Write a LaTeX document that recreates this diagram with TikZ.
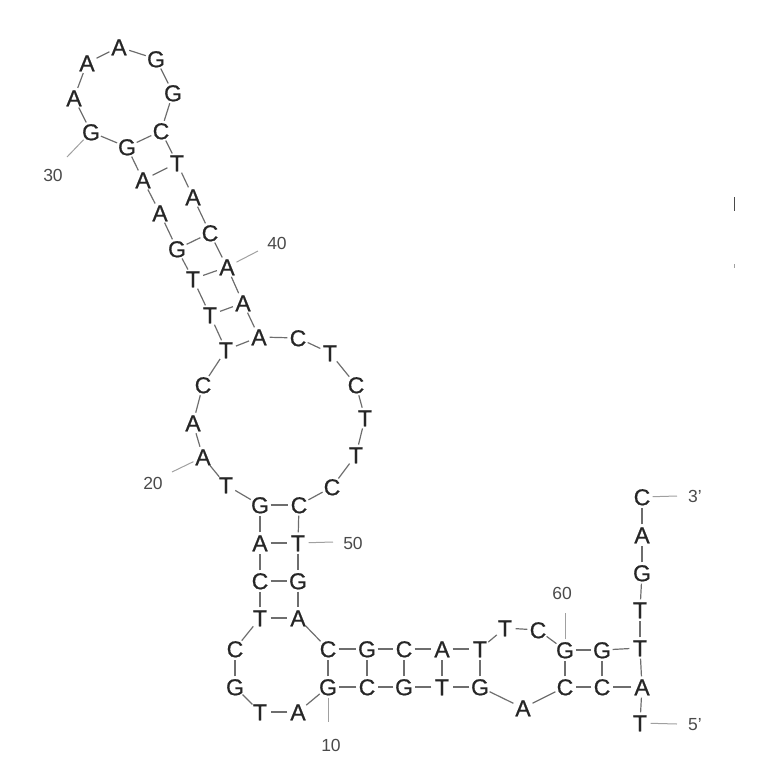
\documentclass[tikz,border=0pt]{standalone}
\usepackage{fontspec}
\setmainfont{Liberation Sans}
\newfontface\basefont{Liberation Sans}[FakeBold=0.7]
\definecolor{basecol}{HTML}{262626}
\definecolor{linkcol}{HTML}{6E6E6E}
\definecolor{numcol}{HTML}{4A4A4A}
\definecolor{tickcol}{HTML}{A0A0A0}
\newcommand\nuc[4]{\node[nt] (#1) at (#2,#3) {\makebox[0pt]{#4}};}
\begin{document}
\begin{tikzpicture}[x=1pt,y=-1pt,
  nt/.style={circle,inner sep=0pt,minimum size=21pt,text height=16.5pt,text depth=0pt,
    font=\basefont\fontsize{23}{26}\selectfont,text=basecol},
  bb/.style={draw=linkcol,line width=1.2pt},
  tick/.style={draw=tickcol,line width=1pt},
  num/.style={font=\fontsize{17.5}{20}\selectfont,text=numcol,inner sep=0pt}]
\useasboundingbox (0,0) rectangle (764,764);
% nucleotides
\nuc{n1}{640}{723}{T}
\nuc{n2}{642}{687}{A}
\nuc{n3}{602}{687}{C}
\nuc{n4}{565}{687}{C}
\nuc{n5}{523}{708}{A}
\nuc{n6}{480}{687}{G}
\nuc{n7}{442}{687}{T}
\nuc{n8}{404}{687}{G}
\nuc{n9}{367}{687}{C}
\nuc{n10}{328}{687}{G}
\nuc{n11}{298}{712}{A}
\nuc{n12}{260}{712}{T}
\nuc{n13}{235}{687}{G}
\nuc{n14}{235}{649}{C}
\nuc{n15}{260}{618}{T}
\nuc{n16}{260}{581}{C}
\nuc{n17}{260}{543}{A}
\nuc{n18}{260}{505}{G}
\nuc{n19}{226}{485}{T}
\nuc{n20}{203}{457}{A}
\nuc{n21}{193}{423}{A}
\nuc{n22}{203}{385}{C}
\nuc{n23}{226}{350}{T}
\nuc{n24}{210}{315}{T}
\nuc{n25}{193}{279}{T}
\nuc{n26}{177}{249}{G}
\nuc{n27}{160}{213}{A}
\nuc{n28}{143}{180}{A}
\nuc{n29}{127}{147}{G}
\nuc{n30}{91}{132}{G}
\nuc{n31}{74}{98}{A}
\nuc{n32}{87}{63}{A}
\nuc{n33}{119}{47}{A}
\nuc{n34}{156}{59}{G}
\nuc{n35}{173}{93}{G}
\nuc{n36}{161}{131}{C}
\nuc{n37}{177}{163}{T}
\nuc{n38}{193}{197}{A}
\nuc{n39}{210}{233}{C}
\nuc{n40}{227}{267}{A}
\nuc{n41}{243}{303}{A}
\nuc{n42}{259}{337}{A}
\nuc{n43}{298}{338}{C}
\nuc{n44}{330}{353}{T}
\nuc{n45}{356}{385}{C}
\nuc{n46}{365}{418}{T}
\nuc{n47}{356}{455}{T}
\nuc{n48}{332}{487}{C}
\nuc{n49}{299}{505}{C}
\nuc{n50}{298}{543}{T}
\nuc{n51}{298}{581}{G}
\nuc{n52}{298}{618}{A}
\nuc{n53}{328}{649}{C}
\nuc{n54}{367}{649}{G}
\nuc{n55}{404}{649}{C}
\nuc{n56}{442}{649}{A}
\nuc{n57}{480}{649}{T}
\nuc{n58}{505}{628}{T}
\nuc{n59}{538}{630}{C}
\nuc{n60}{565}{650}{G}
\nuc{n61}{602}{650}{G}
\nuc{n62}{640}{648}{T}
\nuc{n63}{640}{610}{T}
\nuc{n64}{642}{573}{G}
\nuc{n65}{642}{535}{A}
\nuc{n66}{642}{497}{C}
% backbone
\foreach \a/\b in {1/2,2/3,3/4,4/5,5/6,6/7,7/8,8/9,9/10,10/11,11/12,12/13,13/14,14/15,
  15/16,16/17,17/18,18/19,19/20,20/21,21/22,22/23,23/24,24/25,25/26,26/27,27/28,28/29,
  29/30,30/31,31/32,32/33,33/34,34/35,35/36,36/37,37/38,38/39,39/40,40/41,41/42,42/43,
  43/44,44/45,45/46,46/47,47/48,48/49,49/50,50/51,51/52,52/53,53/54,54/55,55/56,56/57,
  57/58,58/59,59/60,60/61,61/62,62/63,63/64,64/65,65/66}
  \draw[bb] (n\a) -- (n\b);
% base pairs
\foreach \a/\b in {2/62,3/61,4/60,6/57,7/56,8/55,9/54,10/53,15/52,16/51,17/50,18/49,
  23/42,24/41,25/40,26/39,28/37,29/36}
  \draw[bb] (n\a) -- (n\b);
% position labels
\coordinate (c30) at (67,157);
\coordinate (c40) at (258,251);
\coordinate (c20) at (172,472);
\coordinate (c50) at (333,542);
\coordinate (c10) at (328,722);
\coordinate (c60) at (565,613);
\coordinate (c3) at (677,496);
\coordinate (c5) at (677,724);
\draw[tick] (n30) -- (c30);
\draw[tick] (n40) -- (c40);
\draw[tick] (n20) -- (c20);
\draw[tick] (n50) -- (c50);
\draw[tick] (n10) -- (c10);
\draw[tick] (n60) -- (c60);
\draw[tick] (n66) -- (c3);
\draw[tick] (n1) -- (c5);
\node[num] (l30) at (53,175) {30};
\node[num] (l40) at (277,243) {40};
\node[num] (l20) at (153,483) {20};
\node[num] (l50) at (353,543) {50};
\node[num] (l10) at (331,745) {10};
\node[num] (l60) at (562,593) {60};
\node[num] (l3) at (695,496) {3'};
\node[num] (l5) at (695,725) {5'};
% stray marks at right edge
\draw[draw=numcol,line width=1pt] (734,197) -- (734,211);
\draw[draw=tickcol,line width=0.8pt] (734,264) -- (734,268);
\end{tikzpicture}
\end{document}
